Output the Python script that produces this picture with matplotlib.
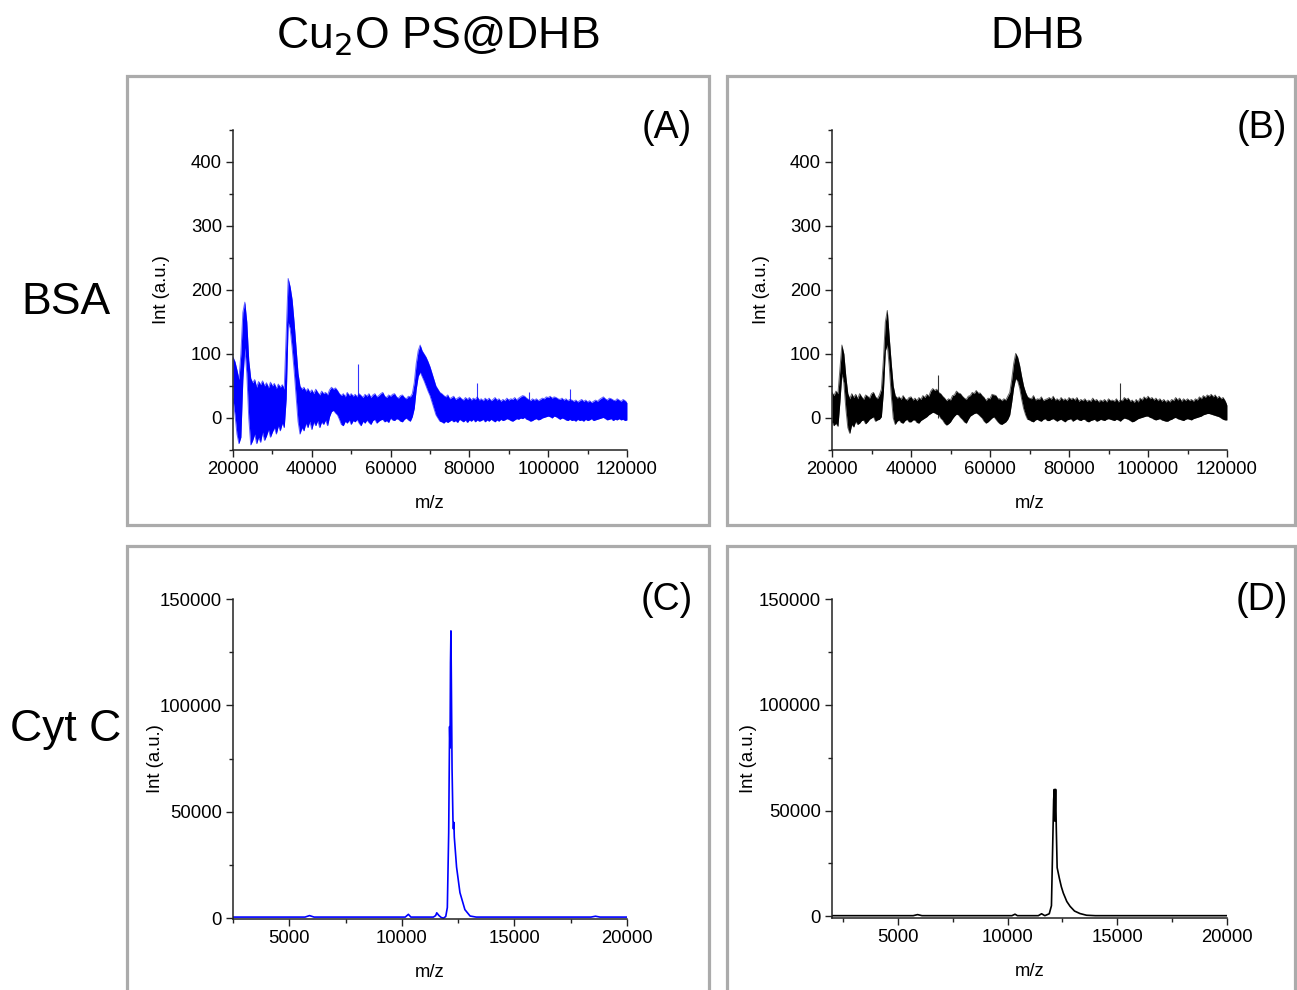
import matplotlib
matplotlib.use('Agg')
import matplotlib.pyplot as plt
from matplotlib.patches import Rectangle
from matplotlib.ticker import MultipleLocator, FixedLocator

plt.rcParams['font.family'] = ['Liberation Sans', 'DejaVu Sans']

# ---------------- data ----------------
# BSA spectra are read as a noise band: upper / lower envelope every 500 m/z
mz_bsa = list(range(20000, 120001, 500))

# Panel A: BSA with Cu2O PS@DHB
upper_a = [95, 88, 75, 60, 100, 165, 181, 150, 90, 62,
           55, 60, 48, 57, 52, 58, 50, 55, 47, 56,
           50, 54, 46, 53, 48, 52, 45, 130, 218, 205,
           185, 150, 110, 70, 50, 45, 48, 42, 46, 40,
           44, 38, 45, 40, 36, 42, 38, 40, 36, 44,
           48, 45, 47, 43, 38, 35, 38, 33, 40, 35,
           38, 34, 37, 33, 38, 35, 32, 37, 34, 38,
           32, 36, 38, 33, 35, 38, 40, 34, 32, 36,
           34, 37, 38, 33, 31, 35, 36, 32, 30, 34,
           33, 38, 55, 85, 105, 114, 105, 100, 95, 88,
           80, 70, 60, 50, 45, 40, 38, 35, 33, 36,
           30, 32, 34, 29, 31, 33, 30, 28, 32, 29,
           32, 28, 31, 29, 33, 28, 30, 27, 31, 28,
           31, 27, 29, 32, 28, 30, 26, 29, 27, 31,
           28, 30, 29, 32, 28, 31, 33, 35, 34, 31,
           29, 27, 30, 28, 30, 27, 29, 31, 30, 33,
           32, 34, 31, 33, 32, 30, 29, 31, 28, 30,
           27, 29, 28, 26, 28, 25, 27, 29, 26, 28,
           25, 27, 24, 26, 28, 26, 29, 31, 33, 30,
           28, 31, 30, 28, 27, 30, 28, 26, 29, 27,
           24]
lower_a = [30, 5, -25, -40, -30, 60, 110, 70, 0, -42,
           -35, -25, -40, -30, -38, -22, -35, -28, -18, -30,
           -22, -15, -25, -12, -20, -8, -15, 30, 150, 140,
           110, 75, 35, -5, -25, -15, -20, -8, -15, -5,
           -18, -6, -12, -4, -15, -6, -10, -3, -12, 2,
           10, 12, 8, 5, -2, -10, -12, -5, -8, -3,
           -10, -4, -6, -2, -8, -12, -5, -8, -3, -7,
           -10, -4, -2, -8, -5, -3, -2, -6, -4, -7,
           0, -3, -4, -1, -2, -5, -6, -2, 0, -3,
           -5, 2, 15, 45, 65, 72, 65, 58, 50, 42,
           35, 25, 15, 5, 0, -5, -6, -8, -5, -7,
           -5, -3, -6, -4, -7, -2, -4, -6, -3, -7,
           -3, -5, -2, -6, -3, -5, -4, -2, -6, -3,
           -5, -2, -4, -6, -3, -5, -2, -4, -3, -1,
           -2, -4, -5, -3, -1, -2, 0, -1, 1, -2,
           -3, -5, -4, -2, -1, -3, -2, 0, 1, 2,
           3, 2, 0, 3, 2, 0, -2, 0, -1, -3,
           -4, -2, -4, -3, -5, -2, -4, -3, -5, -2,
           -4, -3, -1, -4, -3, -2, -1, 0, 1, -1,
           -3, -2, -1, -4, -2, -3, -1, -3, -2, -4,
           -3]
spike_mz_a = [51800, 81900, 95000, 105600]
spike_int_a = [85, 54, 40, 46]

# Panel B: BSA with DHB
upper_b = [40, 35, 42, 38, 75, 114, 100, 65, 38, 30,
           38, 32, 37, 30, 38, 33, 29, 36, 34, 31,
           38, 40, 33, 30, 36, 45, 90, 150, 168, 125,
           85, 50, 35, 31, 33, 29, 35, 30, 28, 32,
           33, 28, 31, 27, 32, 29, 35, 32, 37, 34,
           42, 46, 43, 45, 40, 38, 34, 31, 27, 30,
           28, 35, 36, 42, 39, 38, 34, 31, 29, 34,
           35, 40, 38, 43, 39, 39, 35, 32, 27, 31,
           30, 37, 36, 35, 30, 30, 27, 30, 28, 34,
           40, 60, 85, 101, 95, 82, 65, 50, 40, 33,
           31, 30, 35, 28, 30, 29, 33, 27, 29, 30,
           32, 29, 34, 28, 30, 27, 32, 28, 30, 27,
           32, 29, 31, 28, 32, 26, 29, 27, 30, 26,
           28, 26, 31, 27, 29, 25, 28, 26, 29, 25,
           30, 27, 28, 26, 30, 25, 28, 27, 32, 29,
           31, 26, 28, 24, 29, 25, 31, 28, 33, 30,
           34, 30, 32, 28, 31, 27, 30, 26, 29, 25,
           28, 25, 29, 27, 32, 28, 31, 26, 30, 27,
           30, 27, 29, 26, 30, 28, 33, 30, 35, 32,
           36, 34, 37, 33, 36, 31, 34, 30, 32, 27,
           20]
lower_b = [-5, -12, -8, -13, 25, 70, 55, 15, -15, -24,
           -10, -14, -5, -10, -8, -4, -3, -9, -6, -2,
           0, 2, -5, -3, -2, 2, 40, 105, 115, 80,
           35, 0, -10, -5, -3, -7, -8, -4, -2, -6,
           -6, -3, -3, -7, -8, -4, -2, 0, 2, 5,
           7, 9, 8, 6, 5, 0, -3, -8, -11, -9,
           -6, -1, 3, 6, 5, 1, -2, -6, -8, -2,
           3, 5, 7, 8, 6, 3, 0, -5, -8, -6,
           -3, 0, 2, -2, -6, -9, -10, -8, -6, -2,
           5, 25, 48, 62, 58, 47, 30, 15, 5, -2,
           -3, -5, -6, -3, -2, -4, -5, -2, -1, -4,
           -4, -2, -1, -3, -5, -3, -2, -4, -6, -3,
           -2, -1, -5, -3, -1, -3, -4, -2, -2, -5,
           -6, -4, -3, -2, -5, -4, -2, -3, -4, -2,
           -1, -2, -3, -4, -2, -3, -5, -2, 0, -1,
           -2, -4, -6, -5, -3, -1, 0, 1, 2, 3,
           3, 1, 0, -2, -3, -2, -1, -3, -4, -5,
           -5, -3, -2, 0, 1, -1, -2, -3, -4, -2,
           -1, -2, -3, -1, 0, 1, 2, 3, 5, 6,
           7, 7, 6, 5, 4, 3, 2, 0, -2, -3,
           -3]
spike_mz_b = [46900, 92800]
spike_int_b = [67, 54]

# Panel C: Cyt C with Cu2O PS@DHB
mz_c = [2500, 5700, 5900, 6100, 10150, 10290, 10400, 11400, 11500, 11550,
        11650, 11750, 11850, 11950, 12020, 12080, 12120, 12140, 12160, 12180,
        12200, 12230, 12270, 12290, 12310, 12330, 12430, 12580, 12800, 13030,
        13300, 18400, 18600, 18800, 20000]
int_c = [500, 500, 1200, 500, 500, 1800, 500, 500, 1200, 2500,
         1200, 300, 0, 800, 5000, 40000, 90000, 80000, 120000, 135000,
         110000, 70000, 46000, 42000, 45000, 38000, 24000, 12000, 4000, 1000,
         500, 500, 900, 500, 500]

# Panel D: Cyt C with DHB
mz_d = [2000, 5700, 5900, 6100, 10200, 10340, 10450, 11400, 11550, 11700,
        11900, 12000, 12070, 12100, 12130, 12160, 12190, 12220, 12260, 12300,
        12330, 12360, 12450, 12540, 12700, 12850, 13050, 13300, 13600, 14000,
        20000]
int_d = [300, 300, 800, 300, 300, 1000, 300, 300, 1200, 300,
         1200, 5000, 40000, 55000, 60000, 45000, 60000, 42000, 23000, 21000,
         19500, 18000, 14000, 11000, 7000, 4700, 2500, 1300, 500, 300,
         300]

col_titles = ['Cu$_2$O PS@DHB', 'DHB']
row_titles = ['BSA', 'Cyt C']
panel_tags = ['(A)', '(B)', '(C)', '(D)']

# ---------------- figure ----------------
W, H = 1297, 990
fig = plt.figure(figsize=(W / 100, H / 100), dpi=100)


def fx(px):
    return px / W


def fy(py):
    return 1 - py / H


# gray frames
frames = [(127, 76, 709, 525), (727, 76, 1295, 525),
          (127, 546, 709, 1000), (727, 546, 1295, 1000)]
for (x0, y0, x1, y1) in frames:
    fig.patches.append(Rectangle((fx(x0), fy(y1)), fx(x1) - fx(x0), fy(y0) - fy(y1),
                                 transform=fig.transFigure, fill=False,
                                 edgecolor='#ababab', linewidth=2.3))

# axes positions (pixels: left, top, right, bottom)
boxes = [(233, 130, 627, 450), (832, 130, 1227, 450),
         (233, 599, 627, 919), (832, 599, 1227, 918)]
axes = []
for (l, t, r, b) in boxes:
    ax = fig.add_axes([fx(l), fy(b), fx(r) - fx(l), fy(t) - fy(b)])
    axes.append(ax)

TICK_FS = 13.3


def style(ax):
    for s in ['top', 'right']:
        ax.spines[s].set_visible(False)
    for s in ['left', 'bottom']:
        ax.spines[s].set_linewidth(1.1)
        ax.spines[s].set_color('#222222')
    ax.tick_params(which='major', direction='out', length=5, width=1.0,
                   labelsize=TICK_FS, color='#222222', pad=3)
    ax.tick_params(which='minor', direction='out', length=3, width=1.0,
                   color='#222222')


# BSA panels
for ax, up, lo, smz, sint, col in [
        (axes[0], upper_a, lower_a, spike_mz_a, spike_int_a, '#0000ff'),
        (axes[1], upper_b, lower_b, spike_mz_b, spike_int_b, '#000000')]:
    ax.fill_between(mz_bsa, lo, up, color=col, linewidth=0)
    ax.plot(mz_bsa, up, color=col, linewidth=0.7, alpha=0.6)
    ax.plot(mz_bsa, lo, color=col, linewidth=0.7, alpha=0.6)
    ax.vlines(smz, 0, sint, color=col, linewidth=0.8, alpha=0.8)
    ax.set_xlim(20000, 120000)
    ax.set_ylim(-50, 450)
    ax.xaxis.set_major_locator(FixedLocator([20000, 40000, 60000, 80000, 100000, 120000]))
    ax.xaxis.set_minor_locator(MultipleLocator(10000))
    ax.yaxis.set_major_locator(FixedLocator([0, 100, 200, 300, 400]))
    ax.yaxis.set_minor_locator(MultipleLocator(50))
    style(ax)

# Cyt C panels
axes[2].plot(mz_c, int_c, color='#0000ff', linewidth=1.2)
axes[2].set_xlim(2500, 20000)
axes[2].set_ylim(-400, 150000)
axes[3].plot(mz_d, int_d, color='#000000', linewidth=1.2)
axes[3].set_xlim(2000, 20000)
axes[3].set_ylim(-800, 150000)
for ax in axes[2:]:
    ax.xaxis.set_major_locator(FixedLocator([5000, 10000, 15000, 20000]))
    ax.xaxis.set_minor_locator(MultipleLocator(2500))
    ax.yaxis.set_major_locator(FixedLocator([0, 50000, 100000, 150000]))
    ax.yaxis.set_minor_locator(MultipleLocator(25000))
    style(ax)

ylab_x = [-0.16, -0.157, -0.175, -0.19]
for ax, yx in zip(axes, ylab_x):
    ax.set_ylabel('Int (a.u.)', fontsize=13.3)
    ax.yaxis.set_label_coords(yx, 0.5)
    ax.set_xlabel('m/z', fontsize=13.3)
    ax.xaxis.set_label_coords(0.5, -0.142)

# panel tags
tag_pos = [(667, 128), (1262, 128), (667, 600), (1262, 600)]
for (px, py), tag in zip(tag_pos, panel_tags):
    fig.text(fx(px), fy(py), tag, fontsize=27, ha='center', va='center')

# column and row titles
fig.text(fx(438), fy(36), col_titles[0], fontsize=32, ha='center', va='center')
fig.text(fx(1037), fy(36), col_titles[1], fontsize=32, ha='center', va='center')
fig.text(fx(66), fy(302), row_titles[0], fontsize=32, ha='center', va='center')
fig.text(fx(66), fy(730), row_titles[1], fontsize=32, ha='center', va='center')

fig.savefig('out.png', dpi=100)
